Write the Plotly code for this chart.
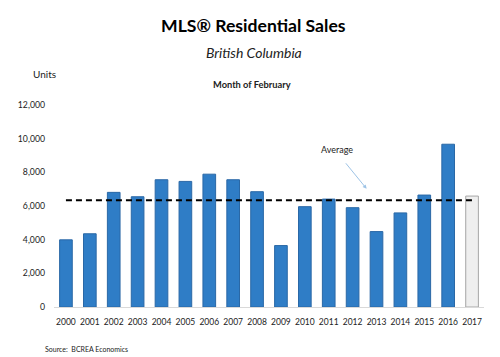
import plotly.graph_objects as go

years = [str(y) for y in range(2000, 2018)]
sales = [3990, 4350, 6810, 6550, 7560, 7460, 7890, 7560, 6850, 3650,
         5960, 6410, 5900, 4480, 5590, 6650, 9670, 6590]
average = 6340
y_ticks = [0, 2000, 4000, 6000, 8000, 10000, 12000]
y_tick_labels = ["0", "2,000", "4,000", "6,000", "8,000", "10,000", "12,000"]

bar_colors = ["#2f7dc6"] * (len(years) - 1) + ["#efefef"]
line_colors = ["#2a68a6"] * (len(years) - 1) + ["#a6a6a6"]

FONT = "Lato"
W, H = 500, 357
OFF = 8  # page body margin in the browser
# target plot area in window pixels: x 54..484.5, y 105..307.5
L, T = 54 - OFF, 105 - OFF
R = W - (484.5 - OFF)
B = H - (307.5 - OFF)
pw, ph = W - L - R, H - T - B


def px_y(y):
    return (H - B - (y - OFF)) / ph


def px_x(x):
    return ((x - OFF) - L) / pw


fig = go.Figure()
fig.add_trace(go.Bar(
    x=years, y=sales,
    marker=dict(color=bar_colors, line=dict(color=line_colors, width=1)),
    width=0.53,
    showlegend=False,
))
fig.add_trace(go.Scatter(
    x=years, y=[average] * len(years),
    mode="lines",
    line=dict(color="black", width=2, dash="6px,4px"),
    showlegend=False,
))

ann = [
    dict(text="<b>MLS® Residential Sales</b>", x=px_x(254), y=px_y(25),
         font=dict(size=17.6, color="black")),
    dict(text="<i>British Columbia</i>", x=px_x(254), y=px_y(52),
         font=dict(size=14, color="#222")),
    dict(text="<b>Month of February</b>", x=px_x(252), y=px_y(84),
         font=dict(size=9.3, color="#222")),
    dict(text="Units", x=px_x(31), y=px_y(74),
         font=dict(size=10, color="#222")),
    dict(text="Source:  BCREA Economics", x=px_x(43), y=px_y(350), xanchor="left",
         font=dict(size=7, color="#222")),
    dict(text="Average", x=px_x(337), y=px_y(150),
         font=dict(size=9, color="#222")),
]
for a in ann:
    a.update(xref="paper", yref="paper", showarrow=False, yanchor="middle")
ann.append(dict(
    x=px_x(367), y=px_y(189), xref="paper", yref="paper",
    ax=-22, ay=-27, axref="pixel", ayref="pixel",
    showarrow=True, arrowhead=2, arrowsize=0.8, arrowwidth=1,
    arrowcolor="#9dc3e6", text="",
))

fig.update_layout(
    width=W, height=H,
    margin=dict(l=L, r=R, t=T, b=B, autoexpand=False),
    paper_bgcolor="white", plot_bgcolor="white",
    font=dict(family=FONT, color="#222"),
    xaxis=dict(
        type="category",
        showline=True, linecolor="#d9d9d9", linewidth=1,
        ticks="", showgrid=False, tickangle=0, ticklabelstandoff=7,
        tickfont=dict(size=8.5, family=FONT, color="#222"),
    ),
    yaxis=dict(
        range=[0, 12000],
        tickvals=y_ticks, ticktext=y_tick_labels,
        showgrid=False, zeroline=False, showline=False,
        ticks="", ticklabelstandoff=8,
        tickfont=dict(size=8.7, family=FONT, color="#222"),
    ),
    annotations=ann,
)

fig.write_html("out.html")
